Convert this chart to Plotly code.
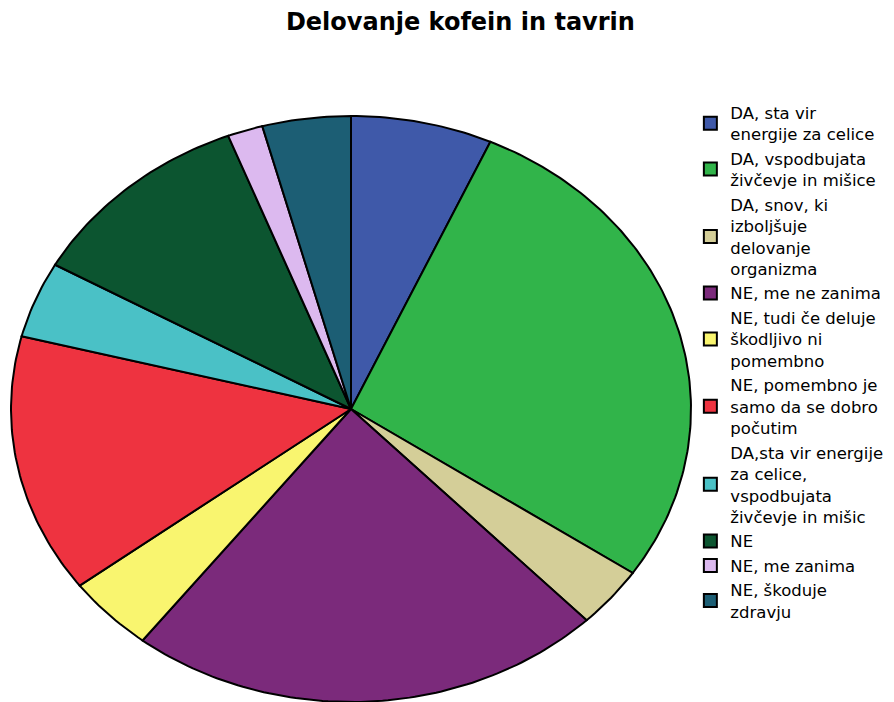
import numpy as np
import plotly.graph_objects as go

# Survey answers and response counts
labels = [
    "DA, sta vir<br>energije za celice",
    "DA, vspodbujata<br>živčevje in mišice",
    "DA, snov, ki<br>izboljšuje<br>delovanje<br>organizma",
    "NE, me ne zanima",
    "NE, tudi če deluje<br>škodljivo ni<br>pomembno",
    "NE, pomembno je<br>samo da se dobro<br>počutim",
    "DA,sta vir energije<br>za celice,<br>vspodbujata<br>živčevje in mišic",
    "NE",
    "NE, me zanima",
    "NE, škoduje<br>zdravju",
]
counts = [8, 33, 4, 27, 5, 17, 5, 13, 2, 5]
colors = [
    "#3f59a9", "#31b44a", "#d4ce98", "#7b2a7b", "#f9f56f",
    "#ee3340", "#4ac1c6", "#0c5530", "#dcb9ef", "#1c5e74",
]

fig = go.Figure()

# Wedges drawn on unit-circle coordinates; unequal axis scaling makes the pie elliptical
vals = np.array(counts, dtype=float)
edges = np.concatenate([[0.0], np.cumsum(vals)]) / vals.sum() * 2 * np.pi
for lab, col, a0, a1 in zip(labels, colors, edges[:-1], edges[1:]):
    t = np.linspace(a0, a1, max(8, int((a1 - a0) / (2 * np.pi) * 400)))
    xs = np.concatenate([[0.0], np.sin(t), [0.0]])
    ys = np.concatenate([[0.0], np.cos(t), [0.0]])
    fig.add_trace(go.Scatter(
        x=xs, y=ys, mode="lines", fill="toself", fillcolor=col,
        line=dict(color="black", width=2), hoverinfo="text",
        text=lab.replace("<br>", " "), showlegend=False, legendgroup=lab,
    ))

# Legend entries with square swatches
for lab, col in zip(labels, colors):
    fig.add_trace(go.Scatter(
        x=[None], y=[None], mode="markers", name=lab, legendgroup=lab,
        marker=dict(symbol="square", size=13, color=col,
                    line=dict(color="black", width=2)),
    ))

fig.update_layout(
    width=894, height=702,
    margin=dict(l=4, r=196, t=110, b=0),
    paper_bgcolor="white", plot_bgcolor="white",
    title=dict(
        text="<b>Delovanje kofein in tavrin</b>",
        x=0.515, xanchor="center", y=0.969, yanchor="middle",
        xref="container", yref="container",
        font=dict(family="DejaVu Sans", size=24, color="black"),
    ),
    xaxis=dict(visible=False, range=[-1.0206, 1.0206], fixedrange=True),
    yaxis=dict(visible=False, range=[-1.0, 1.0205], fixedrange=True),
    legend=dict(
        x=0.989, xanchor="left", y=1.025, yanchor="top",
        font=dict(family="DejaVu Sans", size=16.5, color="black"),
        traceorder="normal", itemwidth=30, bgcolor="rgba(0,0,0,0)",
        maxheight=660,
    ),
    showlegend=True,
)

fig.write_html("out.html")
